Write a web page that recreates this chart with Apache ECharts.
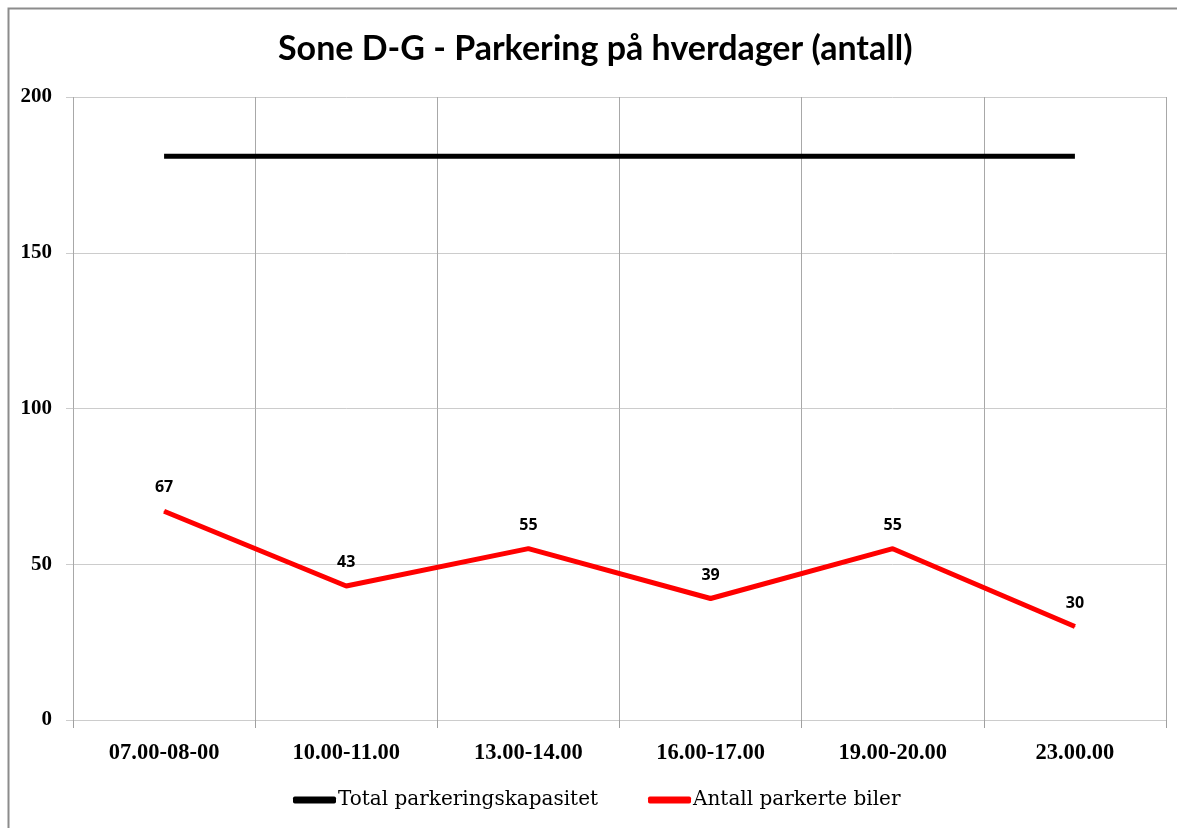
<!DOCTYPE html>
<html>
<head>
<meta charset="utf-8">
<script src="https://cdn.jsdelivr.net/npm/echarts@6/dist/echarts.min.js"></script>
<style>
  html, body { margin: 0; padding: 0; background: #ffffff; }
  #main { width: 1177px; height: 828px; }
</style>
</head>
<body>
<div id="main"></div>
<script>
// data
const categories = ['07.00-08-00', '10.00-11.00', '13.00-14.00', '16.00-17.00', '19.00-20.00', '23.00.00'];
const capacity = [181, 181, 181, 181, 181, 181];
const parked = [67, 43, 55, 39, 55, 30];
const yTicks = [0, 50, 100, 150, 200];

const myChart = echarts.init(document.getElementById('main'));

const option = {
  animation: false,
  title: {
    text: 'Sone D-G - Parkering på hverdager (antall)',
    left: 273,
    top: 27,
    textStyle: {
      fontFamily: 'Lato',
      fontSize: 34,
      fontWeight: 'bold',
      color: '#000000',
    },
  },
  legend: {
    top: 785,
    left: 288,
    itemWidth: 43,
    itemHeight: 7,
    itemGap: 50,
    icon: 'roundRect',
    textStyle: {
      fontFamily: 'DejaVu Serif',
      fontSize: 20,
      color: '#000000',
      padding: [0, 0, 0, -3],
    },
    data: ['Total parkeringskapasitet', 'Antall parkerte biler'],
  },
  grid: { left: 73, right: 11, top: 97, bottom: 108 },
  xAxis: {
    type: 'category',
    data: categories,
    boundaryGap: true,
    axisLine: { lineStyle: { color: '#cccccc', width: 1 } },
    axisTick: { show: true, length: 8, lineStyle: { color: '#a0a0a0' } },
    axisLabel: {
      fontFamily: 'Liberation Serif',
      fontWeight: 'bold',
      fontSize: 22.5,
      color: '#000000',
      margin: 22,
    },
    splitLine: { show: true, lineStyle: { color: '#a8a8a8', width: 1 } },
  },
  yAxis: {
    type: 'value',
    min: yTicks[0],
    max: yTicks[yTicks.length - 1],
    interval: 50,
    axisLine: { show: false },
    axisTick: { show: true, length: 7, lineStyle: { color: '#cccccc' } },
    axisLabel: {
      fontFamily: 'Liberation Serif',
      fontWeight: 'bold',
      fontSize: 21,
      color: '#000000',
      margin: 21,
    },
    splitLine: { lineStyle: { color: '#cccccc', width: 1 } },
  },
  series: [
    {
      name: 'Total parkeringskapasitet',
      type: 'line',
      data: capacity,
      symbol: 'none',
      itemStyle: { color: '#000000' },
      lineStyle: { color: '#000000', width: 5 },
    },
    {
      name: 'Antall parkerte biler',
      type: 'line',
      data: parked,
      // tiny symbol so the data labels are drawn
      symbol: 'circle',
      symbolSize: 1,
      showSymbol: true,
      itemStyle: { color: '#ff0000' },
      lineStyle: { color: '#ff0000', width: 5 },
      label: {
        show: true,
        position: 'top',
        distance: 15,
        fontFamily: 'Open Sans',
        fontWeight: 'bold',
        fontSize: 16,
        color: '#000000',
      },
    },
  ],
  // outer frame
  graphic: [
    {
      type: 'rect',
      shape: { x: 8.5, y: 8.5, width: 1200, height: 900 },
      style: { fill: 'none', stroke: '#8c8c8c', lineWidth: 2 },
      silent: true,
    },
  ],
};

myChart.setOption(option);
</script>
</body>
</html>
